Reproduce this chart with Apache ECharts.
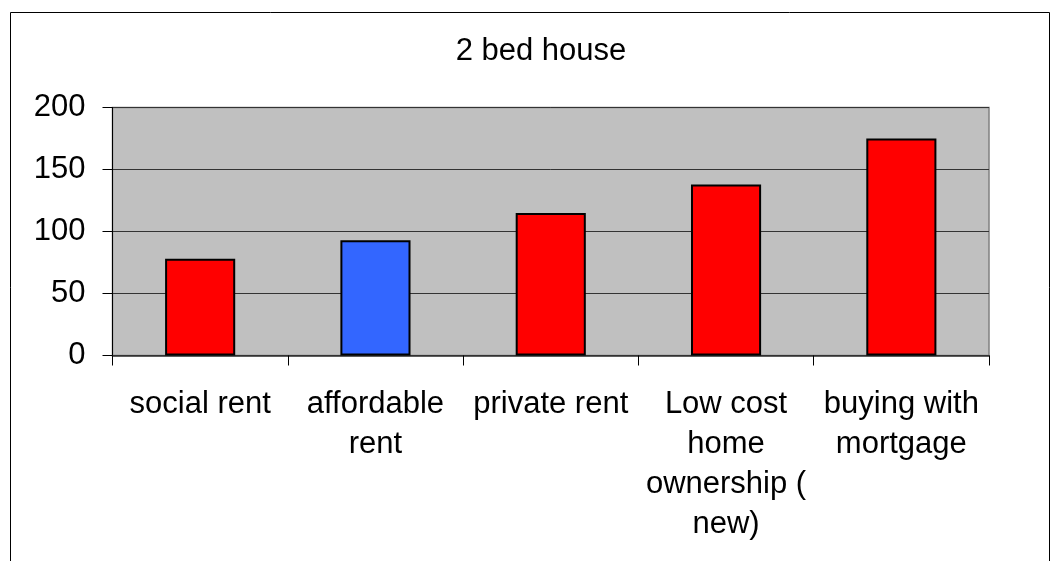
<!DOCTYPE html>
<html>
<head>
<meta charset="utf-8">
<script src="https://cdn.jsdelivr.net/npm/echarts@6/dist/echarts.min.js"></script>
<style>
  html, body { margin: 0; padding: 0; background: #fff; }
  #main { width: 1061px; height: 561px; }
</style>
</head>
<body>
<div id="main"></div>
<script>
// chart data
const categories = ['social rent', 'affordable\nrent', 'private rent', 'Low cost\nhome\nownership (\nnew)', 'buying with\nmortgage'];
const values = [78, 93, 115, 138, 175];
const barColors = ['#FF0000', '#3366FF', '#FF0000', '#FF0000', '#FF0000'];
const yTicks = [0, 50, 100, 150, 200];

const chart = echarts.init(document.getElementById('main'));

const option = {
  backgroundColor: '#fff',
  animation: false,
  textStyle: { fontFamily: 'Liberation Sans, Arial, sans-serif' },
  title: {
    text: '2 bed house',
    left: 536,
    top: 31,
    textAlign: 'center',
    textStyle: { fontSize: 31, fontWeight: 'normal', color: '#000' }
  },
  // outer chart frame (bottom runs off the page)
  graphic: [{
    type: 'rect',
    shape: { x: 10.5, y: 12.5, width: 1039, height: 600 },
    style: { fill: 'none', stroke: '#000', lineWidth: 1 },
    silent: true
  }],
  grid: {
    left: 112.5,
    top: 107.5,
    right: 72,
    bottom: 205.5,
    show: true,
    backgroundColor: '#C0C0C0',
    borderColor: '#808080',
    borderWidth: 1.5
  },
  xAxis: {
    type: 'category',
    data: categories,
    axisLine: { show: true, lineStyle: { color: '#333', width: 1.5 } },
    axisTick: { show: true, length: 10, lineStyle: { color: '#000' } },
    axisLabel: {
      fontSize: 31,
      color: '#000',
      margin: 29,
      lineHeight: 40,
      interval: 0,
      align: 'center'
    }
  },
  yAxis: {
    type: 'value',
    min: yTicks[0],
    max: yTicks[yTicks.length - 1],
    interval: 50,
    axisLine: { show: true, lineStyle: { color: '#000', width: 1 } },
    axisTick: { show: true, length: 10, lineStyle: { color: '#000' } },
    axisLabel: { fontSize: 31, color: '#000', margin: 27 },
    splitLine: { show: true, lineStyle: { color: '#333', width: 1 } }
  },
  series: [{
    type: 'bar',
    barWidth: '40%',
    data: values.map((v, i) => ({
      value: v,
      itemStyle: { color: barColors[i] }
    })),
    itemStyle: { borderColor: '#000', borderWidth: 2 }
  }]
};

chart.setOption(option);
</script>
</body>
</html>
